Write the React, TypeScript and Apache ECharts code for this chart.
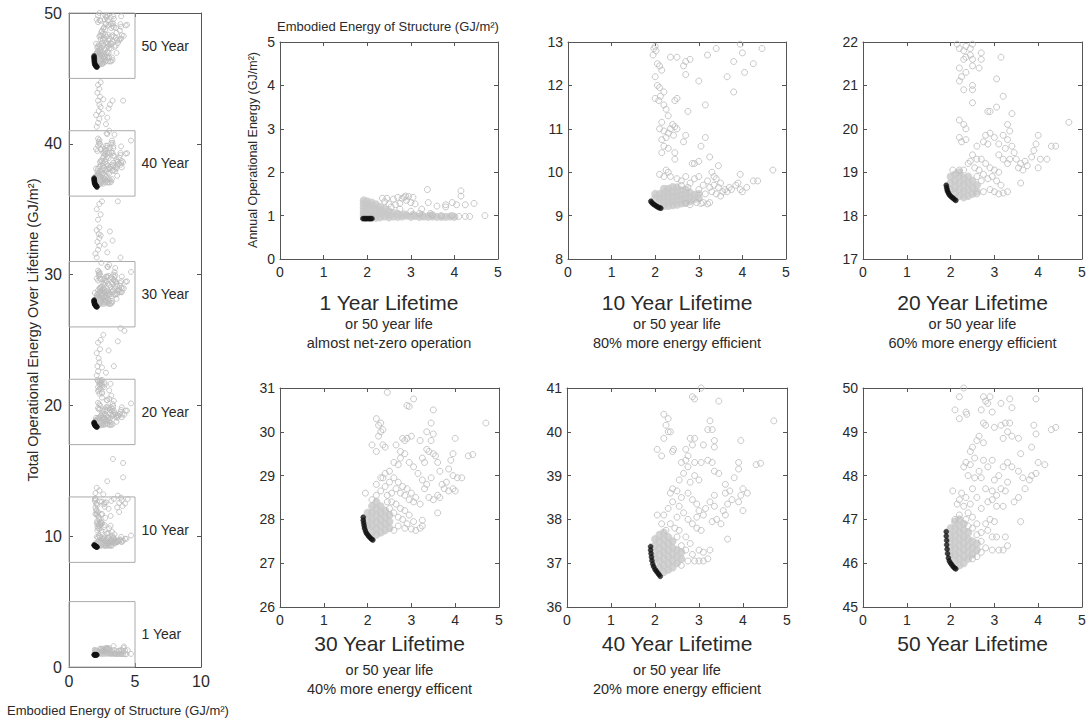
import React, { useEffect, useRef } from "react";
import * as echarts from "echarts";

// ---------- DATA ----------
const yRanges: number[][] = [[0, 5], [8, 13], [17, 22], [26, 31], [36, 41], [45, 50]];
const yTickSteps: number[] = [1, 1, 1, 1, 1, 1];
const panelTitles: string[] = ["1 Year Lifetime", "10 Year Lifetime", "20 Year Lifetime", "30 Year Lifetime", "40 Year Lifetime", "50 Year Lifetime"];
const panelSub1: string[] = ["or 50 year life", "or 50 year life", "or 50 year life", "or 50 year life", "or 50 year life", ""];
const panelSub2: string[] = ["almost net-zero operation", "80% more energy efficient", "60% more energy efficient", "40% more energy efficent", "20% more energy efficient", ""];
const boxLabels: string[] = ["1 Year", "10 Year", "20 Year", "30 Year", "40 Year", "50 Year"];
const boxRanges: number[][] = [[0, 5], [8, 13], [17, 22], [26, 31], [36, 41], [45, 50]];

// 1 year
const p1Black = [[1.9, 0.93], [1.93, 0.93], [1.96, 0.93], [1.99, 0.93], [2.02, 0.93], [2.05, 0.93], [2.08, 0.93], [2.11, 0.93]];
const p1Dense = [
  [1.92, 1.35], [1.92, 1.28], [1.92, 1.2], [1.92, 1.12], [1.92, 1.05], [1.92, 0.99],
  [2.0, 1.33], [2.0, 1.25], [2.0, 1.17], [2.0, 1.09], [2.0, 1.01],
  [2.1, 1.3], [2.1, 1.22], [2.1, 1.14], [2.1, 1.06], [2.1, 0.99],
  [2.2, 1.26], [2.2, 1.18], [2.2, 1.1], [2.2, 1.02], [2.2, 0.95],
  [2.3, 1.2], [2.3, 1.12], [2.3, 1.04], [2.3, 0.96],
  [2.4, 1.15], [2.4, 1.07], [2.4, 0.98], [2.5, 1.1], [2.5, 1.02], [2.5, 0.96],
  [2.6, 1.06], [2.6, 0.98], [2.7, 1.04], [2.7, 0.97], [2.8, 0.98], [2.9, 1.0], [3.0, 0.97],
  [3.1, 0.99], [3.2, 0.97], [3.3, 0.98], [3.4, 0.97], [3.5, 0.98], [3.6, 0.97], [3.7, 0.97],
  [3.8, 0.97], [3.9, 0.98], [4.0, 0.97], [2.85, 1.03], [3.05, 1.02], [3.25, 1.01], [3.45, 1.0]
];
const p1Hollow = [
  [3.38, 1.6], [4.15, 1.57], [4.15, 1.45], [3.4, 1.3], [3.6, 1.22], [3.8, 1.25], [3.95, 1.3], [4.05, 1.25],
  [4.25, 1.25], [4.45, 1.28], [4.7, 1.0], [4.25, 0.98], [4.35, 0.98], [4.1, 0.98], [3.8, 1.2], [3.1, 1.27],
  [2.75, 1.28], [2.5, 1.27], [2.6, 1.38], [2.45, 1.4], [2.7, 1.42], [2.85, 1.42], [2.95, 1.44], [3.05, 1.42],
  [2.9, 1.35], [3.0, 1.1], [3.2, 1.05], [3.45, 1.05], [2.35, 1.4], [2.55, 1.2], [2.65, 1.25], [2.8, 1.4],
  [2.88, 1.45], [3.0, 1.3], [3.25, 1.15], [3.5, 1.02], [3.7, 1.0], [3.95, 1.0], [2.4, 1.32], [2.75, 1.15]
];

// 10 year
const p2Black = [[1.9, 9.33], [1.92, 9.3], [1.95, 9.27], [1.98, 9.25], [2.01, 9.23], [2.04, 9.21], [2.07, 9.19], [2.1, 9.18], [2.13, 9.17]];
const p2Dense = [
  [2.0, 9.4], [2.0, 9.5], [2.1, 9.3], [2.1, 9.4], [2.1, 9.5],
  [2.2, 9.22], [2.2, 9.32], [2.2, 9.42], [2.2, 9.52], [2.2, 9.62],
  [2.3, 9.22], [2.3, 9.32], [2.3, 9.42], [2.3, 9.52], [2.3, 9.62],
  [2.4, 9.24], [2.4, 9.34], [2.4, 9.44], [2.4, 9.54], [2.4, 9.66],
  [2.5, 9.25], [2.5, 9.35], [2.5, 9.45], [2.5, 9.55], [2.5, 9.65],
  [2.6, 9.28], [2.6, 9.38], [2.6, 9.48], [2.6, 9.58], [2.7, 9.3], [2.7, 9.4], [2.7, 9.5], [2.7, 9.6],
  [2.8, 9.33], [2.8, 9.43], [2.8, 9.53], [2.9, 9.38], [2.9, 9.48], [3.0, 9.4], [3.0, 9.5]
];
const p2Hollow = [
  [1.97, 12.85], [2.0, 12.9], [2.02, 12.8], [1.95, 12.7], [2.05, 12.5], [2.1, 12.45], [2.15, 12.35], [2.0, 12.2],
  [2.05, 12.0], [2.1, 11.95], [2.2, 11.85], [2.0, 11.7], [2.08, 11.65], [2.12, 11.75], [2.2, 11.55], [2.25, 11.45],
  [2.3, 11.3], [2.15, 11.15], [2.1, 11.0], [2.2, 10.95], [2.3, 10.9], [2.35, 11.0], [2.4, 11.1], [2.45, 11.05],
  [2.5, 11.0], [2.42, 10.85], [2.15, 10.75], [2.25, 10.8], [2.2, 10.6], [2.3, 10.55], [2.15, 10.45], [2.45, 10.45],
  [2.45, 10.3], [2.65, 10.7], [2.7, 10.85], [2.5, 11.7], [2.45, 11.65], [2.75, 11.4], [2.35, 12.65], [2.5, 12.65],
  [2.65, 12.45], [2.7, 12.55], [2.8, 12.6], [2.7, 12.25], [3.0, 12.1], [3.15, 11.55], [3.2, 12.7], [3.4, 12.85],
  [3.65, 12.2], [3.8, 12.55], [3.8, 11.85], [3.95, 12.95], [4.0, 12.75], [4.05, 12.3], [4.25, 12.5], [4.45, 12.85],
  [2.2, 9.9], [2.25, 10.05], [2.3, 10.0], [2.35, 9.9], [2.1, 9.95], [2.85, 10.2], [2.9, 10.2], [3.0, 10.25],
  [3.05, 10.6], [3.15, 10.8], [3.25, 10.35], [3.45, 10.15], [3.3, 10.0], [3.35, 9.9], [3.4, 9.85], [3.5, 9.75],
  [3.6, 9.6], [3.7, 9.65], [3.65, 9.55], [3.55, 9.55], [3.75, 9.6], [3.85, 9.7], [3.9, 9.75], [3.95, 9.95],
  [3.95, 9.6], [4.0, 9.55], [4.1, 9.65], [4.25, 9.8], [4.35, 9.8], [4.7, 10.05], [3.1, 9.3], [3.2, 9.27],
  [3.25, 9.3], [3.05, 9.28], [2.95, 9.3], [2.8, 9.25], [2.7, 9.28], [3.0, 9.6], [3.1, 9.7], [3.2, 9.8],
  [3.25, 9.65], [3.3, 9.55], [3.4, 9.5], [3.5, 9.45], [2.8, 9.75], [2.9, 9.85], [3.0, 9.9], [2.7, 9.9],
  [2.6, 9.8], [2.5, 9.85], [2.6, 9.7], [2.75, 9.65], [3.15, 9.5], [3.35, 9.7], [3.45, 9.65],
  [3.33, 15.9], [4.1, 15.6], [4.1, 14.5], [2.9, 14.2], [2.1, 13.7], [2.3, 13.5], [2.6, 13.2], [2.0, 13.3], [3.7, 13.1]
];

// 20 year
const p3Black = [[1.9, 18.7], [1.91, 18.65], [1.92, 18.6], [1.93, 18.56], [1.95, 18.52], [1.97, 18.48], [2.0, 18.45], [2.03, 18.42], [2.06, 18.4], [2.09, 18.37], [2.12, 18.35]];
const p3Dense = [
  [2.0, 18.6], [2.0, 18.75], [2.0, 18.9], [2.1, 18.5], [2.1, 18.65], [2.1, 18.8], [2.1, 18.95],
  [2.2, 18.45], [2.2, 18.6], [2.2, 18.75], [2.2, 18.9], [2.2, 19.0],
  [2.3, 18.42], [2.3, 18.57], [2.3, 18.72], [2.3, 18.87], [2.4, 18.45], [2.4, 18.6], [2.4, 18.75], [2.4, 18.9],
  [2.5, 18.5], [2.5, 18.65], [2.5, 18.8], [2.6, 18.55], [2.6, 18.7]
];
const p3Hollow = [
  [2.15, 21.95], [2.2, 21.85], [2.3, 21.8], [2.35, 21.9], [2.45, 21.85], [2.5, 21.95], [2.3, 21.6], [2.35, 21.65],
  [2.45, 21.7], [2.5, 21.6], [2.2, 21.4], [2.25, 21.2], [2.2, 21.1], [2.35, 21.3], [2.5, 21.45], [2.65, 21.4],
  [2.7, 21.6], [2.7, 21.75], [2.3, 20.9], [2.5, 21.0], [2.5, 20.9], [2.5, 20.6], [3.05, 21.15], [3.15, 21.65],
  [3.2, 20.75], [3.05, 20.5], [2.85, 20.4], [2.9, 20.4], [3.4, 20.35], [2.2, 20.2], [2.3, 20.1], [2.35, 20.0],
  [2.35, 19.75], [2.2, 19.8], [2.25, 19.7], [2.6, 19.6], [2.75, 19.7], [2.8, 19.85], [2.9, 19.9], [3.0, 19.8],
  [2.85, 19.65], [3.1, 19.65], [3.2, 19.85], [3.3, 20.1], [3.35, 19.95], [3.3, 19.75], [3.4, 19.6], [3.45, 19.45],
  [3.5, 19.3], [3.55, 19.1], [3.6, 19.2], [3.7, 19.25], [3.65, 19.05], [3.75, 19.15], [3.85, 19.35], [3.9, 19.5],
  [3.95, 19.65], [4.0, 19.85], [4.05, 19.3], [4.0, 19.1], [4.2, 19.3], [4.3, 19.6], [4.4, 19.6], [4.7, 20.15],
  [3.6, 18.75], [3.3, 18.55], [3.2, 18.52], [3.1, 18.5], [3.0, 18.55], [2.9, 18.6], [2.75, 18.55], [2.6, 18.5],
  [2.5, 19.4], [2.45, 19.25], [2.6, 19.3], [2.7, 19.3], [2.8, 19.2], [2.9, 19.1], [3.0, 19.05], [3.1, 19.0],
  [3.2, 19.3], [3.3, 19.2], [2.65, 19.05], [2.75, 18.95], [2.85, 18.85], [2.95, 18.9], [3.05, 18.8], [3.15, 18.7],
  [2.55, 19.1], [2.4, 19.2], [2.3, 19.05], [2.2, 19.05], [2.05, 19.05], [2.6, 18.9], [2.7, 18.8], [3.35, 19.3],
  [3.25, 19.55], [3.1, 19.4],
  [2.1, 22.3], [2.2, 22.6], [2.15, 23.0], [2.3, 23.3], [2.25, 23.6], [2.1, 24.0], [2.35, 24.3], [2.2, 24.8],
  [2.4, 25.0], [2.6, 25.4], [3.0, 24.2], [3.7, 24.9], [3.9, 25.9], [4.2, 25.7], [2.8, 22.5], [3.4, 23.0], [2.5, 22.9]
];

// 30 year
const p4Black = [[1.9, 28.05], [1.9, 27.98], [1.91, 27.92], [1.92, 27.86], [1.93, 27.8], [1.95, 27.74], [1.97, 27.69], [2.0, 27.65], [2.03, 27.61], [2.06, 27.58], [2.09, 27.55], [2.12, 27.53]];
const p4Dense = [
  [2.0, 27.85], [2.0, 28.0], [2.0, 28.15], [2.1, 27.7], [2.1, 27.85], [2.1, 28.0], [2.1, 28.15], [2.1, 28.3],
  [2.2, 27.65], [2.2, 27.8], [2.2, 27.95], [2.2, 28.1], [2.2, 28.25], [2.2, 28.4],
  [2.3, 27.7], [2.3, 27.85], [2.3, 28.0], [2.3, 28.15], [2.3, 28.3], [2.4, 27.75], [2.4, 27.9], [2.4, 28.05], [2.4, 28.2],
  [2.5, 27.8], [2.5, 27.95], [2.5, 28.1]
];
const p4Hollow = [
  [2.45, 30.9], [3.05, 30.75], [2.9, 30.6], [2.95, 30.58], [3.5, 30.5], [4.7, 30.2], [2.2, 30.3], [2.25, 30.15],
  [2.3, 30.2], [2.35, 30.05], [2.3, 30.0], [2.25, 29.9], [2.1, 29.7], [2.2, 29.55], [2.4, 29.65], [2.35, 29.7],
  [2.8, 29.85], [2.85, 29.8], [2.9, 29.85], [3.0, 29.9], [2.65, 29.7], [2.75, 29.55], [3.2, 29.8], [3.35, 30.0],
  [3.45, 30.2], [3.45, 29.8], [3.5, 29.95], [3.35, 29.6], [3.4, 29.55], [3.5, 29.5], [3.55, 29.45], [3.25, 29.4],
  [3.3, 29.3], [3.6, 29.3], [3.65, 29.1], [3.85, 29.15], [3.9, 29.35], [3.95, 29.5], [4.0, 29.85], [4.3, 29.45],
  [4.4, 29.48], [3.95, 29.0], [4.05, 28.95], [4.15, 28.95], [3.8, 28.85], [3.7, 28.8], [3.75, 28.7], [3.85, 28.65],
  [3.95, 28.7], [4.0, 28.65], [3.6, 28.55], [3.65, 28.5], [3.5, 28.45], [3.4, 28.5], [3.6, 28.15], [3.25, 28.9],
  [3.15, 29.05], [3.05, 29.2], [2.95, 29.3], [2.85, 29.5], [2.75, 29.4], [2.7, 29.25], [2.6, 29.3], [2.5, 29.1],
  [2.4, 29.05], [2.35, 28.95], [2.5, 28.85], [2.6, 28.95], [2.7, 28.85], [2.8, 28.75], [2.9, 28.7], [3.0, 28.6],
  [3.1, 28.5], [3.2, 28.35], [3.05, 28.4], [2.95, 28.45], [2.85, 28.55], [2.75, 28.6], [2.65, 28.7], [2.55, 28.6],
  [2.45, 28.55], [2.55, 28.4], [2.65, 28.35], [2.75, 28.25], [2.85, 28.2], [2.95, 28.1], [3.05, 27.95], [3.0, 27.78],
  [3.1, 27.75], [3.2, 27.8], [3.25, 27.85], [3.25, 27.98], [2.85, 27.8], [2.7, 28.05], [2.6, 28.15], [2.5, 28.25],
  [2.45, 28.4], [1.95, 28.6], [2.1, 28.45], [2.2, 28.55], [2.3, 28.65], [2.4, 28.75], [3.3, 28.7], [3.35, 28.8],
  [3.45, 28.95], [2.2, 28.8], [2.3, 28.95], [2.6, 27.75], [2.7, 27.85], [2.8, 28.0], [2.9, 27.9],
  [2.1, 31.3], [2.0, 31.6], [2.2, 31.9], [2.3, 32.2], [2.15, 32.5], [2.3, 32.8], [2.25, 33.1], [2.1, 33.4],
  [2.4, 33.0], [2.3, 33.6], [2.2, 34.2], [2.4, 34.6], [2.1, 35.0], [2.3, 35.4], [2.5, 35.6], [3.3, 32.6],
  [3.1, 33.3], [3.9, 31.3], [2.7, 32.3], [2.9, 31.7], [3.7, 35.6]
];

// 40 year
const p5Black = [[1.9, 37.38], [1.9, 37.3], [1.91, 37.22], [1.92, 37.14], [1.93, 37.06], [1.95, 36.98], [1.97, 36.92], [2.0, 36.86], [2.03, 36.82], [2.06, 36.78], [2.09, 36.74], [2.12, 36.7]];
const p5Dense = [
  [2.0, 37.1], [2.0, 37.25], [2.0, 37.4], [2.0, 37.55],
  [2.1, 36.9], [2.1, 37.05], [2.1, 37.2], [2.1, 37.35], [2.1, 37.5], [2.1, 37.65],
  [2.2, 36.8], [2.2, 36.95], [2.2, 37.1], [2.2, 37.25], [2.2, 37.4], [2.2, 37.55], [2.2, 37.7],
  [2.3, 36.85], [2.3, 37.0], [2.3, 37.15], [2.3, 37.3], [2.3, 37.45], [2.3, 37.6],
  [2.4, 36.9], [2.4, 37.05], [2.4, 37.2], [2.4, 37.35], [2.4, 37.5],
  [2.5, 37.0], [2.5, 37.15], [2.5, 37.3], [2.6, 37.1], [2.6, 37.25]
];
const p5Hollow = [
  [3.05, 41.0], [2.85, 40.8], [2.9, 40.75], [3.45, 40.7], [4.7, 40.25], [2.2, 40.4], [2.3, 40.3], [2.25, 40.15],
  [2.35, 40.0], [2.3, 40.0], [2.2, 39.85], [2.05, 39.6], [2.15, 39.45], [2.4, 39.55], [2.42, 39.6], [2.8, 39.85],
  [2.85, 39.7], [2.9, 39.85], [2.7, 39.6], [2.75, 39.45], [3.1, 39.7], [3.2, 40.05], [3.3, 40.05], [3.35, 39.8],
  [3.35, 39.65], [3.25, 40.25], [3.95, 39.8], [3.6, 38.6], [2.6, 39.3], [2.7, 39.35], [2.75, 39.2], [2.9, 39.3],
  [3.05, 39.3], [3.2, 39.35], [3.3, 39.3], [3.35, 39.1], [3.45, 39.05], [2.9, 39.0], [3.0, 38.9], [2.8, 38.85],
  [2.65, 39.05], [2.55, 38.9], [3.6, 38.8], [3.7, 38.65], [3.8, 38.95], [3.9, 39.3], [3.9, 39.15], [4.0, 38.7],
  [4.1, 38.6], [3.95, 38.55], [3.9, 38.4], [3.75, 38.45], [3.65, 38.35], [3.55, 38.2], [3.6, 38.1], [3.65, 37.55],
  [4.0, 38.2], [4.3, 39.25], [4.4, 39.28], [3.5, 37.9], [3.4, 38.0], [3.35, 38.3], [3.25, 38.4], [3.15, 38.25],
  [3.1, 38.1], [3.0, 38.2], [2.95, 38.35], [2.85, 38.45], [2.75, 38.6], [2.6, 38.5], [2.5, 38.65], [2.4, 38.7],
  [2.35, 38.6], [2.3, 38.25], [2.2, 38.1], [2.15, 37.9], [2.05, 38.1], [2.4, 38.4], [2.55, 38.3], [2.65, 38.15],
  [2.75, 38.0], [2.85, 37.9], [2.95, 37.8], [3.05, 37.75], [2.7, 37.6], [2.6, 37.4], [2.8, 37.45], [2.5, 37.6],
  [2.45, 37.8], [2.35, 37.9], [2.55, 37.75], [3.0, 37.3], [3.1, 37.25], [3.2, 37.1], [3.25, 37.3], [3.1, 37.05],
  [3.0, 37.05], [2.9, 37.05], [2.75, 37.05], [2.6, 36.95], [2.5, 38.05], [2.95, 38.05], [3.3, 37.95], [3.35, 38.55],
  [2.25, 37.75], [2.7, 37.3], [2.85, 37.2],
  [2.1, 41.3], [2.2, 41.6], [2.3, 41.9], [2.05, 42.2], [2.25, 42.5], [2.4, 42.8], [2.3, 43.0], [2.2, 43.3],
  [2.35, 43.6], [2.15, 43.9], [2.3, 44.2], [2.2, 44.5], [2.4, 44.7], [2.5, 42.3], [2.6, 43.4], [3.3, 43.3],
  [3.1, 43.0], [4.1, 43.3], [2.8, 41.5], [2.9, 42.0], [3.0, 42.7]
];

// 50 year
const p6Black = [[1.9, 46.72], [1.9, 46.62], [1.91, 46.52], [1.91, 46.42], [1.92, 46.32], [1.93, 46.22], [1.95, 46.12], [1.97, 46.05], [2.0, 46.0], [2.03, 45.96], [2.06, 45.92], [2.09, 45.89], [2.12, 45.87]];
const p6Dense = [
  [2.0, 46.2], [2.0, 46.35], [2.0, 46.5], [2.0, 46.65], [2.0, 46.8],
  [2.1, 46.05], [2.1, 46.2], [2.1, 46.35], [2.1, 46.5], [2.1, 46.65], [2.1, 46.8], [2.1, 46.95],
  [2.2, 45.95], [2.2, 46.1], [2.2, 46.25], [2.2, 46.4], [2.2, 46.55], [2.2, 46.7], [2.2, 46.85], [2.2, 47.0],
  [2.3, 46.0], [2.3, 46.15], [2.3, 46.3], [2.3, 46.45], [2.3, 46.6], [2.3, 46.75], [2.3, 46.9],
  [2.4, 46.1], [2.4, 46.25], [2.4, 46.4], [2.4, 46.55], [2.4, 46.7],
  [2.5, 46.2], [2.5, 46.35], [2.5, 46.5], [2.6, 46.3], [2.6, 46.45]
];
const p6Hollow = [
  [2.3, 50.0], [2.2, 49.8], [2.1, 49.5], [2.35, 49.45], [2.37, 49.4], [2.2, 49.3], [2.75, 49.8], [2.8, 49.7],
  [2.9, 49.8], [2.85, 49.65], [2.7, 49.5], [3.15, 49.65], [3.35, 49.75], [3.4, 49.55], [3.95, 49.75], [2.95, 49.45],
  [2.75, 49.2], [2.8, 49.15], [3.0, 49.1], [3.15, 49.15], [3.25, 49.2], [3.35, 49.2], [3.3, 49.0], [3.4, 48.9],
  [3.2, 48.85], [3.55, 48.85], [3.6, 48.5], [3.85, 48.65], [3.95, 48.95], [3.9, 49.15], [4.0, 48.3], [4.3, 49.05],
  [4.4, 49.1], [4.15, 48.25], [3.95, 48.05], [3.85, 48.0], [3.8, 47.9], [3.65, 47.95], [3.7, 47.7], [3.55, 47.5],
  [3.45, 47.4], [3.55, 48.1], [3.4, 48.2], [3.3, 48.3], [3.2, 48.2], [3.1, 48.0], [3.0, 47.9], [2.95, 48.35],
  [2.85, 48.2], [2.75, 48.35], [2.65, 48.1], [2.55, 48.4], [2.45, 48.55], [2.5, 48.65], [2.65, 48.9], [2.75, 48.75],
  [2.6, 48.8], [2.35, 48.3], [2.3, 48.2], [2.45, 48.25], [2.4, 48.0], [2.55, 47.95], [2.7, 47.95], [2.8, 47.7],
  [2.95, 47.65], [3.05, 47.55], [3.15, 47.7], [3.25, 47.65], [3.3, 47.85], [3.2, 47.3], [3.05, 47.3], [2.95, 47.45],
  [2.85, 47.4], [2.7, 47.25], [2.6, 47.5], [2.5, 47.7], [2.35, 47.5], [2.25, 47.6], [2.15, 47.35], [2.05, 47.65],
  [2.45, 47.35], [3.6, 46.95], [2.95, 46.6], [3.05, 46.6], [3.25, 46.6], [3.3, 46.4], [3.2, 46.3], [3.1, 46.3],
  [2.95, 46.3], [2.8, 46.35], [2.7, 46.7], [2.6, 46.9], [2.8, 46.9], [2.9, 47.0], [2.5, 47.05], [2.4, 47.15],
  [2.3, 47.3], [2.2, 47.1], [2.6, 46.65], [2.7, 46.5], [2.85, 46.75], [3.0, 46.95], [2.5, 46.8], [2.4, 46.85],
  [2.2, 47.45], [2.35, 47.0], [2.1, 47.0], [2.5, 46.1], [2.6, 46.15], [2.7, 46.25]
];

const blackSets = [p1Black, p2Black, p3Black, p4Black, p5Black, p6Black];
const denseSets = [p1Dense, p2Dense, p3Dense, p4Dense, p5Dense, p6Dense];
const hollowSets = [p1Hollow, p2Hollow, p3Hollow, p4Hollow, p5Hollow, p6Hollow];

// ---------- LAYOUT ----------
const FONT = '"Liberation Sans", Arial, Helvetica, sans-serif';
const TXT = "#2a2a2a";
const AX = "#555";
const leftGrid = { left: 69, top: 13, width: 132, height: 654 };
const panelGrids = [
  { left: 280, top: 42, width: 218, height: 217 },
  { left: 568, top: 42, width: 218, height: 217 },
  { left: 863, top: 42, width: 219, height: 217 },
  { left: 280, top: 388, width: 219, height: 219 },
  { left: 567, top: 388, width: 220, height: 219 },
  { left: 863, top: 388, width: 219, height: 219 },
];
const titleY = [[302, 324, 343], [643, 670, 689]];

function axisPair(gridIndex: number, min: number, max: number, interval: number, dim: "x" | "y", fontSize: number, margin: number) {
  const base = {
    gridIndex,
    type: "value",
    min,
    max,
    interval,
    splitLine: { show: false },
    axisLine: { show: true, onZero: false, lineStyle: { color: AX, width: 1 } },
    axisTick: { show: true, inside: true, length: 4, lineStyle: { color: AX, width: 1 } },
  };
  const main = {
    ...base,
    position: dim === "x" ? "bottom" : "left",
    axisLabel: { show: true, fontSize, color: TXT, fontFamily: FONT, margin, showMinLabel: true, showMaxLabel: true },
  };
  const mirror = {
    ...base,
    position: dim === "x" ? "top" : "right",
    axisLabel: { show: false },
  };
  return [main, mirror];
}

export default function App() {
  const ref = useRef<HTMLDivElement>(null);
  useEffect(() => {
    if (!ref.current) return;
    const chart = echarts.init(ref.current, null, { renderer: "svg" });
    const grids: any[] = [];
    const xAxes: any[] = [];
    const yAxes: any[] = [];
    const series: any[] = [];
    const graphics: any[] = [];

    const hollowStyle = { color: "rgba(0,0,0,0)", borderColor: "#bababa", borderWidth: 1 };
    const denseStyle = { color: "#c8c8c8", borderWidth: 0 };
    const blackStyle = { color: "#111", borderColor: "#111", borderWidth: 0.5 };

    // left overview panel
    grids.push({ ...leftGrid, containLabel: false, outerBoundsMode: "none" });
    xAxes.push(...axisPair(0, 0, 10, 5, "x", 16, 6));
    yAxes.push(...axisPair(0, 0, 50, 10, "y", 16, 7));
    const allDense = ([] as number[][]).concat(...denseSets);
    const allHollow = ([] as number[][]).concat(...hollowSets);
    const allBlack = ([] as number[][]).concat(...blackSets);
    series.push({
      type: "scatter", xAxisIndex: 0, yAxisIndex: 0, data: allDense, symbol: "circle", symbolSize: 5,
      itemStyle: denseStyle, silent: true, clip: true,
      markArea: {
        silent: true,
        itemStyle: { color: "rgba(0,0,0,0)", borderColor: "#aaa", borderWidth: 1 },
        label: { show: true, position: "right", distance: 6, fontSize: 14, color: TXT, fontFamily: FONT },
        data: boxRanges.map((r, i) => [{ name: boxLabels[i], coord: [0, r[0]] }, { coord: [5, r[1]] }]),
      },
    });
    series.push({ type: "scatter", xAxisIndex: 0, yAxisIndex: 0, data: allHollow, symbol: "circle", symbolSize: 5, itemStyle: hollowStyle, silent: true, clip: true });
    series.push({ type: "scatter", xAxisIndex: 0, yAxisIndex: 0, data: allBlack, symbol: "circle", symbolSize: 5, itemStyle: blackStyle, silent: true, clip: true });

    panelGrids.forEach((g, i) => {
      const gi = i + 1;
      grids.push({ ...g, containLabel: false, outerBoundsMode: "none" });
      xAxes.push(...axisPair(gi, 0, 5, 1, "x", 14, 6));
      yAxes.push(...axisPair(gi, yRanges[i][0], yRanges[i][1], yTickSteps[i], "y", 14, 5));
      const ax = gi * 2;
      series.push({ type: "scatter", xAxisIndex: ax, yAxisIndex: ax, data: denseSets[i], symbol: "circle", symbolSize: 8, itemStyle: denseStyle, silent: true, clip: true });
      series.push({ type: "scatter", xAxisIndex: ax, yAxisIndex: ax, data: hollowSets[i], symbol: "circle", symbolSize: 6, itemStyle: hollowStyle, silent: true, clip: true });
      series.push({ type: "scatter", xAxisIndex: ax, yAxisIndex: ax, data: blackSets[i], symbol: "circle", symbolSize: 5, itemStyle: blackStyle, silent: true, clip: true });

      const row = i < 3 ? 0 : 1;
      const cx = g.left + g.width / 2;
      const lines = [
        { t: panelTitles[i], y: titleY[row][0], fs: 21 },
        { t: panelSub1[i], y: titleY[row][1], fs: 14.5 },
        { t: panelSub2[i], y: titleY[row][2], fs: 14.5 },
      ];
      lines.forEach((l) => {
        if (!l.t) return;
        graphics.push({
          type: "text", x: cx, y: l.y, silent: true,
          style: { text: l.t, fontSize: l.fs, fontFamily: FONT, fill: TXT, align: "center", verticalAlign: "middle", textAlign: "center", textVerticalAlign: "middle" },
        });
      });
    });

    // axis titles
    graphics.push({
      type: "text", x: 388, y: 26, silent: true,
      style: { text: "Embodied Energy of Structure (GJ/m²)", fontSize: 13, fontFamily: FONT, fill: TXT, align: "center", verticalAlign: "middle", textAlign: "center", textVerticalAlign: "middle" },
    });
    graphics.push({
      type: "text", x: 253, y: 150, rotation: Math.PI / 2, silent: true,
      style: { text: "Annual Operational Energy (GJ/m²)", fontSize: 12.5, fontFamily: FONT, fill: TXT, align: "center", verticalAlign: "middle", textAlign: "center", textVerticalAlign: "middle" },
    });
    graphics.push({
      type: "text", x: 33, y: 330, rotation: Math.PI / 2, silent: true,
      style: { text: "Total Operational Energy Over Lifetime (GJ/m²)", fontSize: 14.5, fontFamily: FONT, fill: TXT, align: "center", verticalAlign: "middle", textAlign: "center", textVerticalAlign: "middle" },
    });
    graphics.push({
      type: "text", x: 118, y: 710, silent: true,
      style: { text: "Embodied Energy of Structure (GJ/m²)", fontSize: 13, fontFamily: FONT, fill: TXT, align: "center", verticalAlign: "middle", textAlign: "center", textVerticalAlign: "middle" },
    });

    chart.setOption({
      animation: false,
      backgroundColor: "#ffffff",
      textStyle: { fontFamily: FONT },
      grid: grids,
      xAxis: xAxes,
      yAxis: yAxes,
      series,
      graphic: graphics,
    });
    return () => chart.dispose();
  }, []);
  return <div ref={ref} style={{ position: "fixed", left: 0, top: 0, width: 1091, height: 723, background: "#fff" }} />;
}
